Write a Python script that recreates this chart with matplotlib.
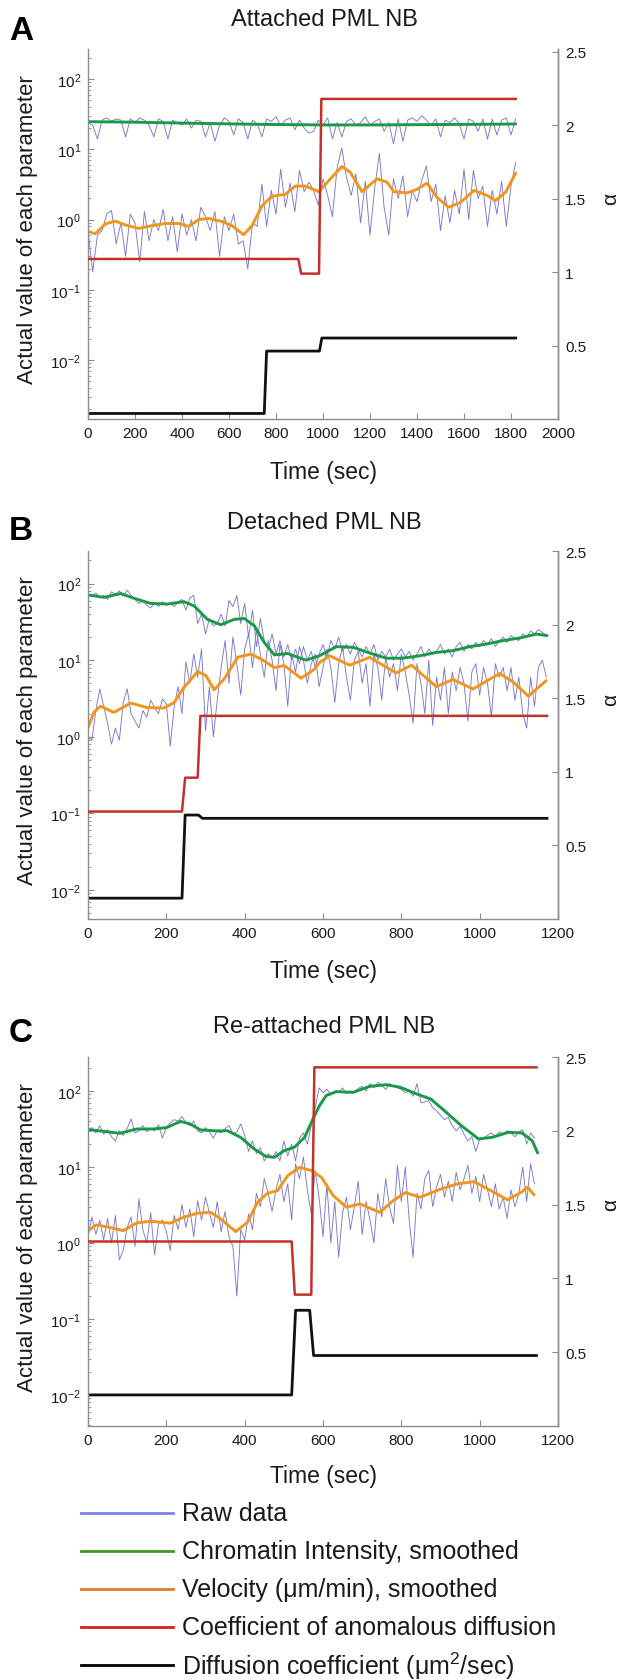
"""Three stacked dual-axis time courses of PML NB motion parameters."""

import numpy as np
import matplotlib

matplotlib.use("Agg")
import matplotlib.pyplot as plt
from matplotlib.ticker import LogLocator, NullFormatter, FixedLocator, FormatStrFormatter

W, H = 621, 1681

RAW = "#7878d0"
GREEN = "#1b9848"
ORANGE = "#f0961e"
RED = "#c4302b"
BLACK = "#111111"
SPINE = "#8c8c8c"
TEXT = "#1a1a1a"

# ---------------- Panel A: attached ----------------
A_STEP = 20
A_CHROM_RAW = [24, 22, 14, 26, 28, 25, 27, 26, 15, 27,
               24, 28, 26, 22, 15, 27, 25, 14, 26, 24,
               22, 27, 20, 26, 25, 15, 24, 13, 22, 28,
               25, 16, 27, 24, 14, 26, 23, 15, 27, 25,
               29, 22, 26, 28, 19, 26, 20, 17, 18, 26,
               22, 28, 14, 24, 15, 25, 27, 22, 24, 29,
               22, 25, 27, 18, 24, 12, 27, 13, 26, 28,
               25, 30, 26, 22, 27, 15, 26, 24, 28, 23,
               14, 27, 25, 18, 27, 14, 27, 16, 26, 28,
               16, 27]
A_VEL_RAW = [0.7, 0.18, 0.6, 0.7, 1.2, 1.35, 0.45, 0.9, 0.3, 1.2,
             0.9, 0.25, 1.3, 0.5, 1.0, 0.7, 1.4, 0.5, 1.1, 0.35,
             1.2, 0.6, 1.0, 0.5, 1.5, 1.1, 0.7, 1.3, 0.3, 1.1,
             0.7, 1.2, 0.45, 0.5, 0.2, 0.9, 0.8, 3.2, 0.8, 2.6,
             1.2, 5.2, 1.5, 3.3, 1.3, 5.0, 2.5, 3.4, 2.6, 1.6,
             3.8, 2.2, 1.1, 5.5, 10.5, 4.0, 2.2, 4.5, 0.9, 3.5,
             0.6, 2.8, 8.8, 1.5, 0.6, 3.8, 2.0, 4.2, 1.1, 2.6,
             1.8, 3.6, 5.8, 1.8, 3.2, 0.7, 2.2, 0.9, 2.6, 1.2,
             5.2, 1.0, 5.0, 2.0, 3.0, 0.8, 2.6, 1.2, 3.5, 0.8,
             3.0, 6.5]
A_CHROM_T = [0, 200, 400, 600, 800, 1000, 1200, 1400, 1600, 1820]
A_CHROM = [24.7, 24.3, 23.6, 23.0, 22.5, 22.2, 22.2, 22.4, 22.6, 22.9]
A_VEL_T = [0, 31, 74, 116, 159, 216, 272, 329, 386, 428, 471, 513, 570, 613, 662,
           698, 741, 783, 840, 882, 925, 982, 1031, 1081, 1116, 1166, 1230, 1273,
           1301, 1358, 1400, 1443, 1485, 1535, 1585, 1642, 1699, 1734, 1777, 1820]
A_VEL = [0.68, 0.63, 0.87, 0.95, 0.84, 0.75, 0.82, 0.88, 0.88, 0.80, 1.0, 1.04,
         0.94, 0.82, 0.61, 0.82, 1.58, 2.15, 2.29, 3.0, 3.0, 2.5, 3.8, 5.7, 4.7,
         2.5, 3.8, 3.4, 2.5, 2.4, 2.7, 3.3, 2.07, 1.5, 1.76, 2.6, 2.2, 1.86, 2.45, 4.6]
A_ALPHA_T = [0, 895, 907, 983, 993, 1820]
A_ALPHA = [1.09, 1.09, 0.99, 0.99, 2.18, 2.18]
A_DIFF_T = [0, 750, 760, 985, 995, 1820]
A_DIFF = [0.00175, 0.00175, 0.0135, 0.0135, 0.0207, 0.0207]

# ---------------- Panel B: detached ----------------
B_STEP = 10
B_CHROM_RAW = [72, 68, 75, 66, 70, 62, 78, 72, 80, 68,
               82, 70, 62, 55, 60, 52, 48, 56, 50, 58,
               52, 55, 50, 58, 62, 45, 65, 70, 30, 40,
               22, 35, 28, 30, 40, 28, 60, 50, 70, 30,
               55, 20, 45, 15, 35, 18, 14, 22, 12, 18,
               11, 16, 10, 14, 9, 15, 10, 13, 8, 12,
               16, 11, 18, 14, 20, 13, 16, 12, 17, 14,
               11, 15, 12, 16, 10, 13, 11, 14, 10, 12,
               14, 11, 13, 10, 12, 15, 11, 14, 12, 13,
               16, 12, 14, 11, 15, 17, 13, 16, 14, 17,
               15, 18, 16, 19, 15, 18, 20, 17, 21, 19,
               18, 22, 20, 24, 22, 25, 23, 21]
B_VEL_RAW = [1.0, 0.9, 2.2, 4.2, 2.5, 1.5, 0.8, 1.3, 0.9, 2.8,
             4.2, 2.0, 1.6, 1.3, 2.2, 1.8, 3.0, 2.4, 2.0, 3.1,
             2.7, 0.75, 2.5, 4.5, 2.0, 9.5, 5.0, 12.0, 6.0, 14.0,
             1.2, 4.5, 1.0, 3.0, 8.0, 18.0, 5.0, 20.0, 9.0, 3.5,
             14.0, 22.0, 8.0, 25.0, 12.0, 6.0, 18.0, 10.0, 4.0, 16.0,
             9.0, 2.5, 12.0, 7.0, 15.0, 10.0, 5.0, 9.0, 12.0, 4.5,
             8.0, 14.0, 8.0, 2.8, 9.0, 15.0, 6.0, 3.0, 10.0, 13.0,
             5.0, 9.0, 2.5, 12.0, 8.0, 3.0, 11.0, 6.0, 9.0, 4.0,
             12.0, 7.0, 3.5, 1.5, 9.0, 5.0, 2.0, 10.0, 1.4, 6.0,
             3.0, 8.0, 2.0, 7.0, 4.0, 8.0, 5.0, 1.6, 7.0, 9.0,
             3.5, 8.0, 5.0, 1.8, 9.0, 6.0, 8.0, 4.0, 8.0, 3.0,
             6.0, 2.0, 1.3, 6.0, 2.5, 8.0, 10.0, 6.0]
B_CHROM_T = [0, 41, 84, 118, 160, 203, 245, 271, 305, 339, 373, 399, 425, 450,
             476, 510, 535, 557, 591, 634, 677, 719, 762, 804, 847, 889, 932, 975,
             1017, 1060, 1103, 1145, 1172]
B_CHROM = [71, 66, 74, 64, 55, 54, 58, 51, 34, 29, 34, 35, 28, 17, 11.7, 12.2,
           10.9, 10.0, 11.4, 15.0, 14.7, 12.4, 10.6, 10.6, 11.4, 12.6, 13.3, 15.0,
           16.2, 18.0, 19.5, 21.9, 20.9]
B_VEL_T = [0, 15, 32, 66, 109, 152, 194, 220, 245, 280, 301, 322, 348, 382, 416,
           442, 476, 501, 544, 578, 591, 617, 668, 719, 787, 826, 889, 932, 983,
           1051, 1085, 1124, 1170]
B_VEL = [1.32, 2.08, 2.5, 2.08, 2.75, 2.4, 2.37, 2.8, 4.4, 7.1, 6.3, 4.1, 5.7,
         10.9, 12.0, 10.3, 8.0, 8.5, 5.8, 7.6, 9.3, 11.4, 8.6, 10.9, 6.8, 8.6,
         4.5, 5.6, 4.2, 6.7, 5.2, 3.4, 5.4]
B_ALPHA_T = [0, 240, 248, 280, 287, 1172]
B_ALPHA = [0.73, 0.73, 0.96, 0.96, 1.38, 1.38]
B_DIFF_T = [0, 240, 248, 282, 292, 1172]
B_DIFF = [0.0078, 0.0078, 0.095, 0.095, 0.086, 0.086]

# ---------------- Panel C: re-attached ----------------
C_STEP = 10
C_CHROM_RAW = [30, 33, 28, 35, 27, 31, 25, 22, 30, 26,
               32, 43, 28, 30, 35, 29, 32, 30, 36, 24,
               33, 38, 42, 40, 46, 38, 35, 40, 30, 28,
               33, 29, 24, 30, 28, 32, 35, 27, 29, 37,
               26, 16, 22, 15, 18, 12, 15, 13, 16, 12,
               22, 14, 20, 12, 24, 28, 20, 35, 60, 110,
               95, 105, 90, 100, 95, 110, 92, 100, 96, 108,
               115, 100, 125, 110, 130, 120, 105, 125, 115, 110,
               105, 95, 100, 85, 125, 70, 72, 75, 60, 55,
               48, 42, 45, 35, 30, 34, 27, 22, 25, 16,
               23, 24, 26, 28, 25, 29, 27, 30, 28, 25,
               29, 31, 20, 28, 24]
C_VEL_RAW = [1.2, 2.2, 1.3, 2.0, 1.1, 2.1, 1.0, 2.3, 0.6, 0.8,
             1.6, 2.2, 0.9, 3.8, 1.5, 1.0, 2.5, 0.7, 1.8, 2.0,
             1.4, 0.8, 2.3, 1.5, 3.2, 1.6, 2.8, 1.2, 3.6, 2.0,
             4.0, 2.5, 1.6, 3.5, 1.4, 2.6, 1.2, 0.9, 0.2, 1.5,
             1.1, 2.4, 1.5, 4.5, 3.0, 7.0, 4.5, 2.6, 5.0, 8.0,
             3.5, 6.0, 2.0, 11.0, 7.0, 13.5, 5.0, 2.4, 9.0, 4.0,
             1.2, 6.0, 1.0, 3.5, 0.65, 2.5, 4.0, 1.5, 3.0, 6.5,
             1.3, 3.5, 2.0, 1.0, 4.5, 2.2, 7.0, 3.0, 1.8, 10.5,
             3.5, 10.0, 2.0, 0.65, 4.5, 2.8, 7.0, 9.0, 3.0, 5.5,
             8.0, 4.0, 6.5, 3.5, 8.5, 5.0, 7.0, 10.5, 4.5, 7.5,
             3.5, 8.0, 5.0, 3.0, 6.0, 2.8, 4.0, 2.1, 5.0, 3.0,
             4.5, 10.0, 3.5, 11.0, 6.0]
C_CHROM_T = [0, 39, 81, 124, 167, 201, 236, 261, 287, 330, 356, 390, 424, 454,
             476, 501, 527, 553, 578, 591, 608, 634, 677, 719, 762, 797, 840, 875,
             910, 953, 997, 1031, 1074, 1108, 1134, 1148]
C_CHROM = [31, 29.5, 27.7, 31.6, 31.6, 33, 39.8, 36.8, 30.7, 29.8, 30, 24.5, 17.3,
           13.8, 13.4, 16.4, 18.2, 24.5, 47, 64, 87, 98, 96, 115, 121, 112, 91,
           78.5, 55, 35, 23.4, 24.5, 28.6, 28, 22.2, 15.3]
C_VEL_T = [0, 21, 56, 90, 124, 159, 210, 244, 278, 313, 339, 377, 407, 433, 458,
           484, 510, 540, 570, 596, 626, 660, 694, 745, 779, 810, 848, 900, 943,
           986, 1028, 1071, 1105, 1122, 1139]
C_VEL = [1.45, 1.73, 1.6, 1.45, 1.83, 1.93, 1.82, 2.18, 2.46, 2.53, 2.07, 1.41,
         1.87, 3.43, 4.5, 4.9, 7.7, 9.9, 9.0, 7.3, 4.2, 2.95, 3.26, 2.53, 3.6, 4.6,
         4.0, 5.1, 6.0, 6.4, 4.9, 3.7, 4.6, 5.4, 4.3]
C_ALPHA_T = [0, 520, 528, 570, 578, 1145]
C_ALPHA = [1.25, 1.25, 0.89, 0.89, 2.43, 2.43]
C_DIFF_T = [0, 520, 530, 566, 576, 1145]
C_DIFF = [0.01, 0.01, 0.13, 0.13, 0.033, 0.033]

LEGEND_LABELS = [
    "Raw data",
    "Chromatin Intensity, smoothed",
    "Velocity (\u03bcm/min), smoothed",
    "Coefficient of anomalous diffusion",
    "Diffusion coefficient (\u03bcm$^{2}$/sec)",
]
LEGEND_COLORS = ["#8080f0", "#3f9a25", "#e07b28", "#dc1e1e", "#000000"]


def fy(y):
    """Pixel row (from top) to figure fraction."""
    return 1 - y / H


def panel(fig, top, bottom, xmax, log_lim, alpha_lim, step, chrom_raw, vel_raw,
          chrom_t, chrom, vel_t, vel, alpha_t, alpha, diff_t, diff):
    ax = fig.add_axes([88 / W, fy(bottom), 470 / W, (bottom - top) / H])
    ax2 = ax.twinx()

    ax.plot(np.arange(len(chrom_raw)) * step, chrom_raw, color=RAW, lw=0.65)
    ax.plot(np.arange(len(vel_raw)) * step, vel_raw, color=RAW, lw=0.65)
    ax.plot(chrom_t, chrom, color=GREEN, lw=2.1, solid_capstyle="round")
    ax.plot(vel_t, vel, color=ORANGE, lw=2.1, solid_capstyle="round")
    ax.plot(diff_t, diff, color=BLACK, lw=2.0)
    ax2.plot(alpha_t, alpha, color=RED, lw=1.8)

    ax.set_yscale("log")
    ax.set_ylim(*log_lim)
    ax.set_xlim(0, xmax)
    ax.xaxis.set_major_locator(FixedLocator(np.arange(0, xmax + 1, 200)))
    ax.yaxis.set_major_locator(LogLocator(base=10, numticks=12))
    ax.yaxis.set_minor_locator(LogLocator(base=10, subs=np.arange(2, 10), numticks=12))
    ax.yaxis.set_minor_formatter(NullFormatter())

    ax2.set_ylim(*alpha_lim)
    ax2.yaxis.set_major_locator(FixedLocator([0.5, 1, 1.5, 2, 2.5]))
    ax2.yaxis.set_major_formatter(FormatStrFormatter("%g"))

    for a in (ax, ax2):
        a.spines["top"].set_visible(False)
        for s in a.spines.values():
            s.set_color(SPINE)
            s.set_linewidth(1.0)
        a.tick_params(which="both", direction="in", color=SPINE, labelsize=11,
                      labelcolor=TEXT, pad=5)
        a.tick_params(which="major", length=4)
        a.tick_params(which="minor", length=2)
    ax2.spines["left"].set_visible(False)
    ax2.spines["bottom"].set_visible(False)
    return ax, ax2


def main():
    plt.rcParams.update({
        "font.family": ["Liberation Sans", "DejaVu Sans"],
        "mathtext.default": "regular",
    })
    fig = plt.figure(figsize=(W / 100, H / 100), dpi=100)

    panels = [
        dict(letter="A", title="Attached PML NB", top=50, bottom=420, xmax=2000,
             log_lim=(1.46e-3, 267), alpha_lim=(0, 2.52), step=A_STEP,
             chrom_raw=A_CHROM_RAW, vel_raw=A_VEL_RAW, chrom_t=A_CHROM_T, chrom=A_CHROM,
             vel_t=A_VEL_T, vel=A_VEL, alpha_t=A_ALPHA_T, alpha=A_ALPHA,
             diff_t=A_DIFF_T, diff=A_DIFF, title_y=20, letter_y=32, xlabel_y=472,
             alpha_y=199),
        dict(letter="B", title="Detached PML NB", top=552, bottom=920, xmax=1200,
             log_lim=(4.17e-3, 266), alpha_lim=(0, 2.5), step=B_STEP,
             chrom_raw=B_CHROM_RAW, vel_raw=B_VEL_RAW, chrom_t=B_CHROM_T, chrom=B_CHROM,
             vel_t=B_VEL_T, vel=B_VEL, alpha_t=B_ALPHA_T, alpha=B_ALPHA,
             diff_t=B_DIFF_T, diff=B_DIFF, title_y=523, letter_y=532, xlabel_y=972,
             alpha_y=700),
        dict(letter="C", title="Re-attached PML NB", top=1058, bottom=1427, xmax=1200,
             log_lim=(3.9e-3, 280), alpha_lim=(0, 2.5), step=C_STEP,
             chrom_raw=C_CHROM_RAW, vel_raw=C_VEL_RAW, chrom_t=C_CHROM_T, chrom=C_CHROM,
             vel_t=C_VEL_T, vel=C_VEL, alpha_t=C_ALPHA_T, alpha=C_ALPHA,
             diff_t=C_DIFF_T, diff=C_DIFF, title_y=1027, letter_y=1034, xlabel_y=1477,
             alpha_y=1205),
    ]

    for p in panels:
        panel(fig, p["top"], p["bottom"], p["xmax"], p["log_lim"], p["alpha_lim"],
              p["step"], p["chrom_raw"], p["vel_raw"], p["chrom_t"], p["chrom"],
              p["vel_t"], p["vel"], p["alpha_t"], p["alpha"], p["diff_t"], p["diff"])
        mid = (p["top"] + p["bottom"]) / 2
        fig.text(324 / W, fy(p["title_y"]), p["title"], ha="center", va="center",
                 fontsize=17, color=TEXT)
        fig.text(9 / W, fy(p["letter_y"]), p["letter"], ha="left", va="center",
                 fontsize=24, fontweight="bold", color="black")
        fig.text(323 / W, fy(p["xlabel_y"]), "Time (sec)", ha="center", va="center",
                 fontsize=16.5, color=TEXT)
        fig.text(28 / W, fy(mid - 5), "Actual value of each parameter", rotation=90,
                 ha="center", va="center", fontsize=16, color=TEXT)
        fig.text(611 / W, fy(p["alpha_y"]), "\u03b1", rotation=90, ha="center",
                 va="center", fontsize=15, color=TEXT)

    # legend drawn in pixel space below the last panel
    lax = fig.add_axes([0, 0, 1, 1], zorder=-1)
    lax.set_xlim(0, W)
    lax.set_ylim(H, 0)
    lax.axis("off")
    for i, (label, color) in enumerate(zip(LEGEND_LABELS, LEGEND_COLORS)):
        y = 1514 + i * 38
        lax.plot([81, 173], [y, y], color=color, lw=2.0)
        lax.text(182, y, label, ha="left", va="center", fontsize=18, color=TEXT)

    fig.savefig("out.png", dpi=100)
    plt.close(fig)


if __name__ == "__main__":
    main()
